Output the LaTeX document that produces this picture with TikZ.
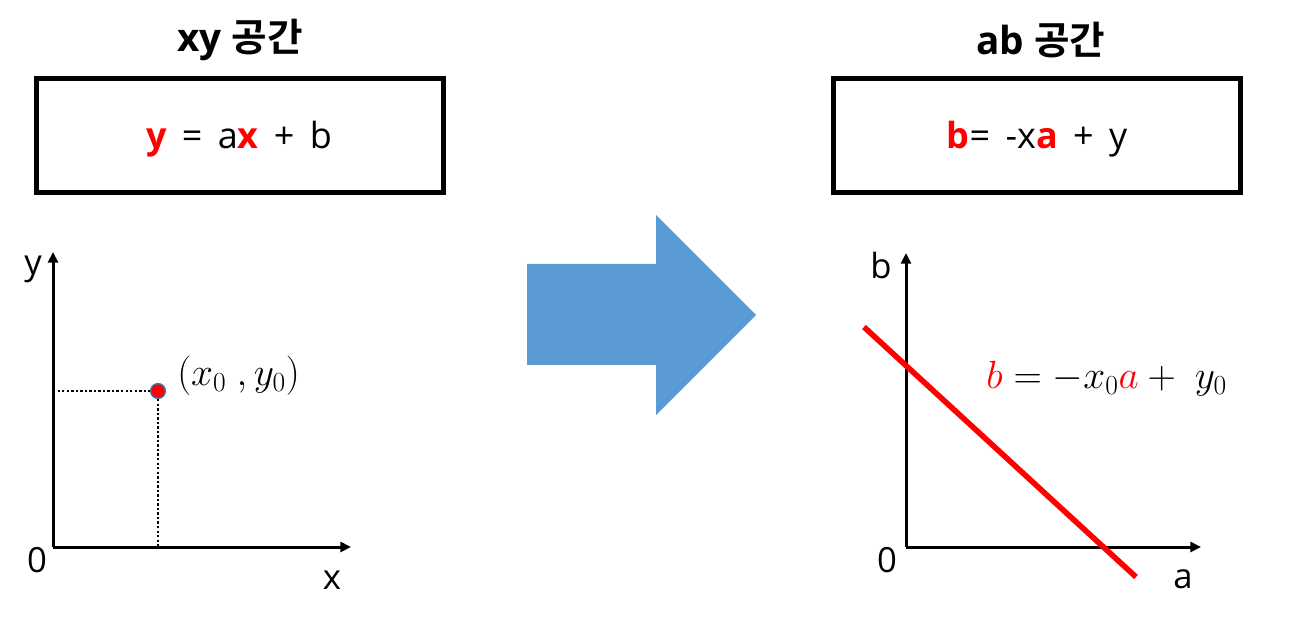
\documentclass[tikz,border=0pt]{standalone}
\usepackage{fix-cm}
\usepackage{fontspec}
\setmainfont{Open Sans}
\newfontfamily\kr{Noto Sans CJK KR}[BoldFont={Noto Sans CJK KR Bold}]
\usetikzlibrary{arrows.meta}
\definecolor{eqred}{HTML}{FF0000}
\definecolor{arrowblue}{HTML}{5B9BD5}
\definecolor{ptedge}{HTML}{41719C}
\tikzset{
  title/.style={font=\fontsize{29}{34}\selectfont\bfseries, inner sep=0pt},
  eqbox/.style={draw=black, line width=3.75pt, minimum width=305.25pt, minimum height=85.5pt, inner sep=0pt},
  eqtext/.style={font=\fontsize{27}{32}\selectfont},
  axis/.style={line width=2.25pt, -{Triangle[length=8pt,width=7.5pt]}},
  axlabel/.style={font=\fontsize{26}{30}\selectfont, inner sep=0pt},
  mathlabel/.style={font=\fontsize{29.5}{34}\selectfont, inner sep=0pt, anchor=west},
  guide/.style={line width=1.8pt, dash pattern=on 1.8pt off 1.6pt},
  redline/.style={eqred, line width=4.2pt},
  pt/.style={circle, fill=eqred, draw=ptedge, line width=1.1pt, minimum size=11pt, inner sep=0pt}
}
\begin{document}
\begin{tikzpicture}[x=0.75pt,y=-0.75pt]
\useasboundingbox (0,0) rectangle (1313,623);
% titles
\node[title] (t1) at (240,40) {xy {\kr 공간}};
\node[title] (t2) at (1041,40) {ab {\kr 공간}};
% boxes
\node[eqbox] (b1) at (240,135.5) {};
\node[eqbox] (b2) at (1037,135.5) {};
\node[eqtext] (e1) at (239,139) {{\color{eqred}\bfseries y} \,=\, a{\color{eqred}\bfseries x} \,+\, b};
\node[eqtext] (e2) at (1037,139) {{\color{eqred}\bfseries b}= \,-x{\color{eqred}\bfseries a} \,+\, y};
% left plot
\coordinate (o1) at (53,547);
\coordinate (y1) at (53,252);
\coordinate (x1) at (351,547);
\coordinate (p1x) at (158,547);
\coordinate (p1y) at (53,391);
\node[pt] (p1) at (158,391) {};
\draw[guide] (p1y) -- (p1.west);
\draw[guide] (p1.south) -- (p1x);
\draw[axis] (o1) -- (y1);
\draw[axis] (o1) -- (x1);
\node[axlabel] (ly) at (33,269) {y};
\node[axlabel] (l0) at (37,560) {0};
\node[axlabel] (lx) at (332,580) {x};
\node[mathlabel] (pl) at (177,376) {$(x_0\ ,y_0)$};
% blue arrow
\fill[arrowblue] (527,264) -- (656,264) -- (656,215) -- (756,315) -- (656,415) -- (656,365) -- (527,365) -- cycle;
% right plot
\coordinate (o2) at (906,547);
\coordinate (y2) at (906,253);
\coordinate (x2) at (1201,547);
\coordinate (ls) at (864,327);
\coordinate (le) at (1136,577);
\draw[axis] (o2) -- (y2);
\draw[axis] (o2) -- (x2);
\draw[redline] (ls) -- (le);
\node[axlabel] (lb) at (881,266) {b};
\node[axlabel] (l02) at (887,560) {0};
\node[axlabel] (la) at (1183,579) {a};
\node[mathlabel] (rl) at (986,379) {$\textcolor{eqred}{b}=-x_0\textcolor{eqred}{a}+\ y_0$};
\end{tikzpicture}
\end{document}
